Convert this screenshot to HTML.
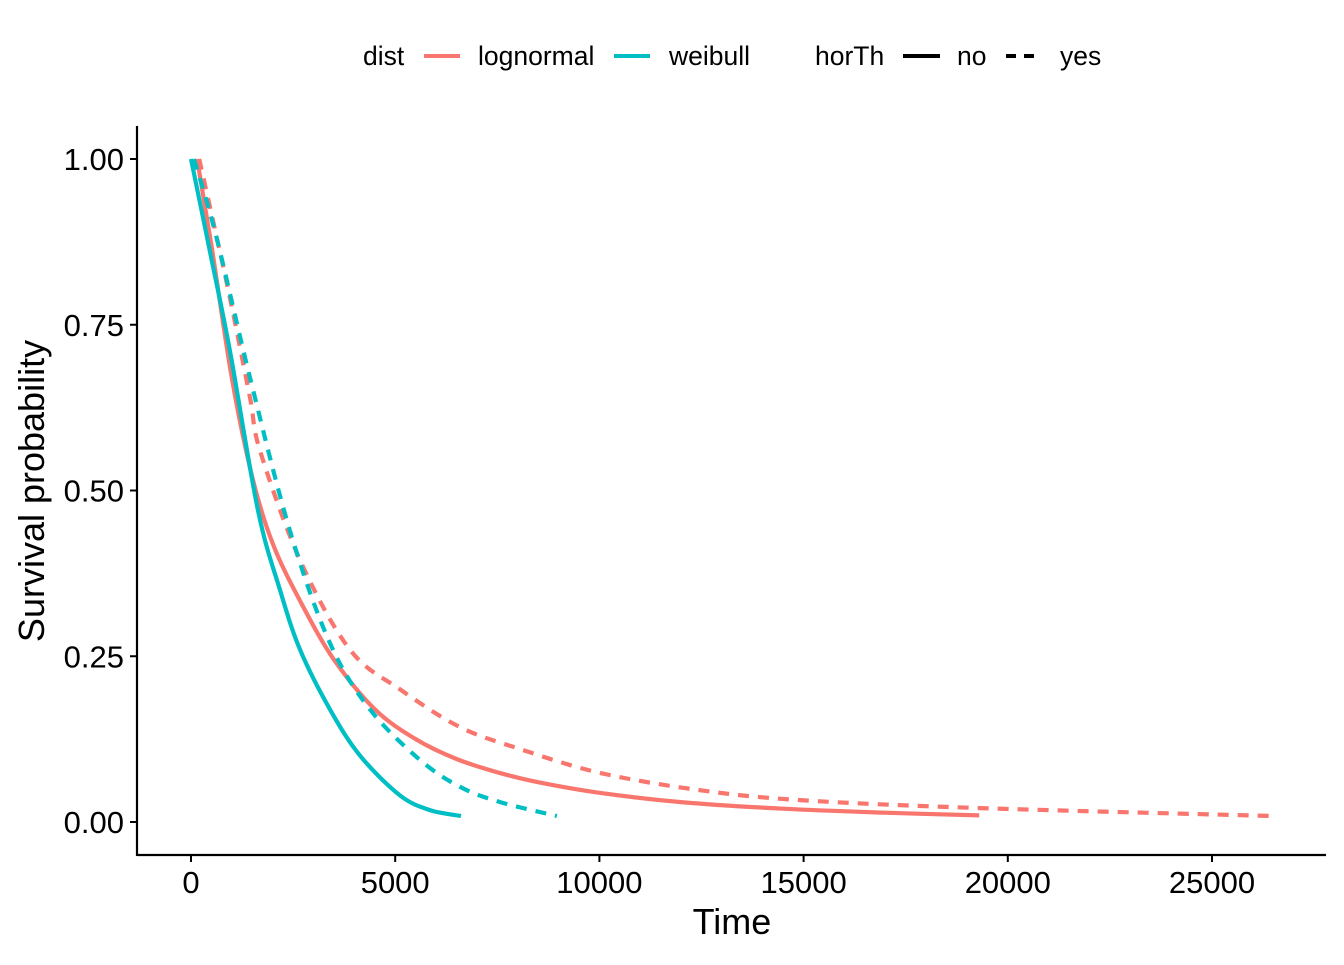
<!DOCTYPE html>
<html><head><meta charset="utf-8"><style>
body{margin:0;background:#fff}
svg text{font-family:"Liberation Sans",Arial,sans-serif;fill:#000}
</style></head><body>
<svg id="chart" width="1344" height="960" xmlns="http://www.w3.org/2000/svg">
<rect width="1344" height="960" fill="#fff"/>
<g id="legend" font-size="26.5">
 <text x="363" y="65">dist</text>
 <line x1="424" y1="56" x2="460" y2="56" stroke="#F8766D" stroke-width="4"/>
 <text x="478" y="65">lognormal</text>
 <line x1="614" y1="56" x2="650" y2="56" stroke="#00BFC4" stroke-width="4"/>
 <text x="669" y="65">weibull</text>
 <text x="815" y="65">horTh</text>
 <line x1="903" y1="56" x2="940" y2="56" stroke="#000" stroke-width="4"/>
 <text x="957" y="65">no</text>
 <line x1="1006" y1="56" x2="1042" y2="56" stroke="#000" stroke-width="4" stroke-dasharray="10,8"/>
 <text x="1060" y="65">yes</text>
</g>
<g id="axes"></g>
<g id="series"></g>
<text x="732" y="934" font-size="36" text-anchor="middle">Time</text>
<text transform="translate(44,491) rotate(-90)" font-size="36" text-anchor="middle">Survival probability</text>
</svg>
<script>
const xTicks=[0,5000,10000,15000,20000,25000];
const yTicks=[0,0.25,0.5,0.75,1.0];
const yTickLabels=["0.00","0.25","0.50","0.75","1.00"];
const lognormalNoT=[150,500,1000,1500,2000,2700,3500,4500,5500,6500,7500,8500,10000,12000,14500,17000,19300];
const lognormalNoS=[1.0,0.87,0.67,0.52,0.42,0.33,0.245,0.17,0.125,0.095,0.075,0.06,0.044,0.03,0.02,0.014,0.01];
const lognormalYesT=[200,600,955,1445,1690,2670,3890,5120,6590,8060,10015,12460,14910,19320,26500];
const lognormalYesS=[1.0,0.89,0.79,0.64,0.56,0.395,0.26,0.2,0.143,0.11,0.074,0.048,0.033,0.021,0.009];
const weibullNoT=[0,465,955,1640,2180,2670,3400,4140,5120,5850,6610];
const weibullNoS=[1.0,0.86,0.71,0.47,0.35,0.26,0.17,0.10,0.04,0.018,0.009];
const weibullYesT=[70,590,1445,2420,3400,4380,5600,6590,7570,8960];
const weibullYesS=[1.0,0.89,0.67,0.44,0.27,0.17,0.094,0.053,0.03,0.009];
const NS="http://www.w3.org/2000/svg";
function xs(t){return 191+t*(1212-191)/25000;}
function ys(s){return 822-s*(822-159);}
const axes=document.getElementById('axes');
function mk(tag,attrs,parent){const e=document.createElementNS(NS,tag);for(const k in attrs)e.setAttribute(k,attrs[k]);parent.appendChild(e);return e;}
const xa=mk('line',{x1:137,y1:855,x2:1326,y2:855,stroke:'#000','stroke-width':2.2},axes);


const ya=mk('line',{x1:137,y1:126,x2:137,y2:856,stroke:'#000','stroke-width':2.2},axes);


xTicks.forEach(v=>{
 const t=mk('line',{x1:xs(v),y1:855,x2:xs(v),y2:862,stroke:'#000','stroke-width':2},axes);
 
 
 const l=mk('text',{x:xs(v),y:893,'font-size':31,'text-anchor':'middle'},axes);l.textContent=v;
 
 
});
yTicks.forEach((v,i)=>{
 const t=mk('line',{x1:130,y1:ys(v),x2:137,y2:ys(v),stroke:'#000','stroke-width':2},axes);
 
 
 const l=mk('text',{x:124,y:ys(v)+11,'font-size':31,'text-anchor':'end'},axes);l.textContent=yTickLabels[i];
 
 
});
const ser=document.getElementById('series');
function smoothPath(P){
 let d='M'+P[0][0].toFixed(1)+','+P[0][1].toFixed(1);
 for(let i=0;i<P.length-1;i++){
  const p0=P[i-1]||P[i],p1=P[i],p2=P[i+1],p3=P[i+2]||P[i+1];
  const c1=[p1[0]+(p2[0]-p0[0])/6,p1[1]+(p2[1]-p0[1])/6];
  const c2=[p2[0]-(p3[0]-p1[0])/6,p2[1]-(p3[1]-p1[1])/6];
  d+=' C'+c1.map(v=>v.toFixed(1)).join(',')+' '+c2.map(v=>v.toFixed(1)).join(',')+' '+p2[0].toFixed(1)+','+p2[1].toFixed(1);
 }
 return d;
}
function draw(T,S,color,dash,name){
 const P=T.map((t,i)=>[xs(t),ys(S[i])]);
 const p=mk('path',{d:smoothPath(P),fill:'none',stroke:color,'stroke-width':4.2,'stroke-linejoin':'round'},ser);
 if(dash)p.setAttribute('stroke-dasharray','11,9');
 
 
}
draw(lognormalNoT,lognormalNoS,'#F8766D',false,'lognormal-no-line');
draw(lognormalYesT,lognormalYesS,'#F8766D',true,'lognormal-yes-line');
draw(weibullNoT,weibullNoS,'#00BFC4',false,'weibull-no-line');
draw(weibullYesT,weibullYesS,'#00BFC4',true,'weibull-yes-line');
</script>
</body></html>
